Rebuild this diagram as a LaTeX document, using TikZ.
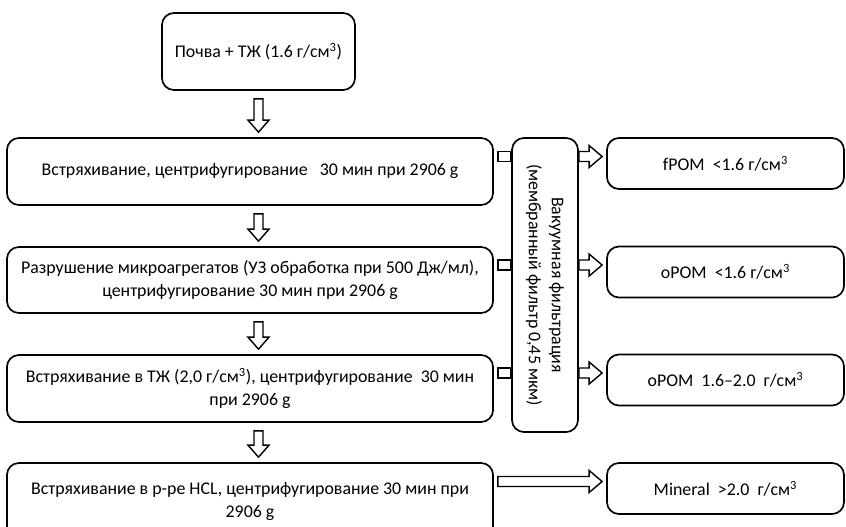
\documentclass[tikz,border=0pt]{standalone}
\usepackage{fontspec}
\setmainfont{Carlito}
\usepackage{tikz}
\usetikzlibrary{calc,positioning}

% hollow block arrows (picture units are pixels)
\newcommand{\downblock}[2]{%
  \draw[hollow] ($(soil |- #1.south)+(-4.5,8)$) -- ($(soil |- #2.north)+(-4.5,-17)$)
    -- ++(-6,0) -- ($(soil |- #2.north)+(0,-5)$) -- ($(soil |- #2.north)+(10.5,-17)$)
    -- ++(-6,0) -- ($(soil |- #1.south)+(4.5,8)$) -- cycle;}
\newcommand{\rightblock}[2]{%
  \draw[hollow] ($(#1)+(0,-5)$) -- ($(#2)+(-13,-5)$) -- ++(0,-6) -- (#2)
    -- ($(#2)+(-13,11)$) -- ++(0,-6) -- ($(#1)+(0,5)$) -- cycle;}
\newcommand{\cubed}{\textsuperscript{3}}

\begin{document}
\begin{tikzpicture}[
	x=0.025cm, y=-0.025cm,
	box/.style = {shape=rectangle, rounded corners=0.3cm,
	draw, line width=1.2pt, align=center, inner sep=0pt,
	fill=white, font=\fontsize{12.7}{16.3}\selectfont},
	step box/.style={box, minimum width=12.15cm},
	frac box/.style={box, minimum width=5.925cm, minimum height=1.275cm},
	hollow/.style={draw, line width=1pt, fill=white, line join=miter}
]
\useasboundingbox (0,0) rectangle (846,526);

\node[box, minimum width=4.825cm, minimum height=1.925cm] (soil) at (258.5,51.5)
	{Почва + ТЖ (1.6 г/см\cubed)};
\node[step box, minimum height=1.675cm] (shake) at (250,171.5)
	{Встряхивание, центрифугирование\ \ \ 30 мин при 2906 g};
\node[step box, minimum height=1.65cm] (disrupt) at (250,280)
	{Разрушение микроагрегатов (УЗ обработка при 500 Дж/мл),\\центрифугирование 30 мин при 2906 g};
\node[step box, minimum height=1.675cm] (dense) at (250,388.5)
	{Встряхивание в ТЖ (2,0 г/см\cubed), центрифугирование\ \ 30 мин\\при 2906 g};
% runs past the lower edge
\node[step box, minimum height=1.925cm] (hcl) at (250,501.5)
	{Встряхивание в р-ре HCL, центрифугирование 30 мин при\\2906 g};

\node[box, rotate=-90, minimum width=7.35cm, minimum height=1.65cm] (filter) at (545,285)
	{Вакуумная фильтрация\\(мембранный фильтр 0,45 мкм)};

\node[frac box] (fpom) at (725.5,163.5) {fPOM\ \ <1.6 г/см\cubed};
\node[frac box] (opom1) at (725.5,272) {oPOM\ \ <1.6 г/см\cubed};
\node[frac box] (opom2) at (725.5,380) {oPOM\ \ 1.6–2.0\ \ г/см\cubed};
\node[frac box] (mineral) at (725.5,488.5) {Mineral\ \ >2.0\ \ г/см\cubed};

% arrow levels
\coordinate (l1) at ($(fpom.west)+(0,-7)$);
\coordinate (l2) at ($(opom1.west)+(0,-7)$);
\coordinate (l3) at ($(opom2.west)+(0,-7)$);
\coordinate (l4) at ($(mineral.west)+(0,-7)$);

\downblock{soil}{shake}
\downblock{shake}{disrupt}
\downblock{disrupt}{dense}
\downblock{dense}{hcl}

% filter is turned, so its south side faces left
\draw[hollow] ($(shake.east |- l1)+(4,-5)$) rectangle ($(filter.south |- l1)+(0,5)$);
\draw[hollow] ($(disrupt.east |- l2)+(4,-5)$) rectangle ($(filter.south |- l2)+(0,5)$);
\draw[hollow] ($(dense.east |- l3)+(4,-5)$) rectangle ($(filter.south |- l3)+(0,5)$);

\coordinate (t1) at ($(filter.north |- l1)$);
\coordinate (h1) at ($(fpom.west |- l1)+(-4,0)$);
\rightblock{t1}{h1}
\coordinate (t2) at ($(filter.north |- l2)$);
\coordinate (h2) at ($(opom1.west |- l2)+(-4,0)$);
\rightblock{t2}{h2}
\coordinate (t3) at ($(filter.north |- l3)$);
\coordinate (h3) at ($(opom2.west |- l3)+(-4,0)$);
\rightblock{t3}{h3}
\coordinate (t4) at ($(hcl.east |- l4)+(4,0)$);
\coordinate (h4) at ($(mineral.west |- l4)+(-4,0)$);
\rightblock{t4}{h4}
\end{tikzpicture}
\end{document}
